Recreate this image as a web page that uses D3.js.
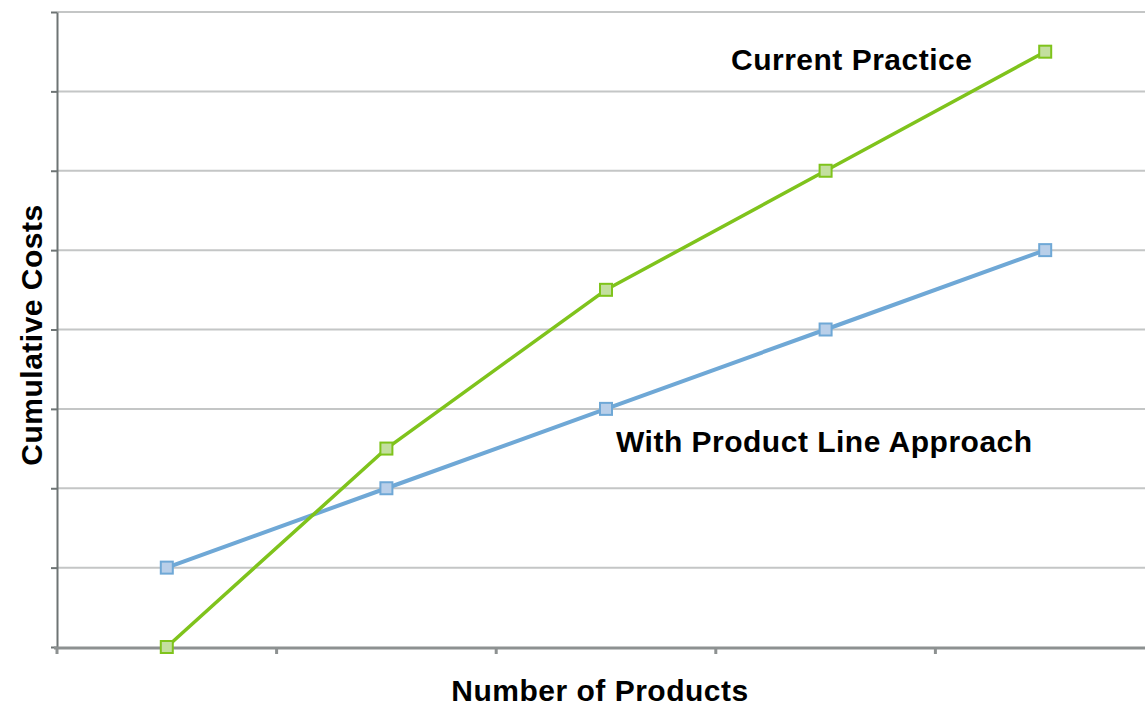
<!DOCTYPE html>
<html><head><meta charset="utf-8">
<script src="https://cdn.jsdelivr.net/npm/d3@7"></script>
<style>body{margin:0;background:#fff;overflow:hidden}svg{display:block}text{font-family:"Liberation Sans",Arial,sans-serif;font-weight:bold;fill:#000;letter-spacing:0.5px}</style>
</head><body><svg id="c" width="1145" height="707"></svg>
<script>
const categories = ["1","2","3","4","5"];
const currentPractice = [0, 2.5, 4.5, 6, 7.5];
const productLine = [1, 2, 3, 4, 5];
const yTicks = [0,1,2,3,4,5,6,7,8];

(function(){
const svg = d3.select("#c");
const mLeft = 57, mRight = 1155, mTop = 12, mBottom = 647;
const x = d3.scaleBand().domain(categories).range([mLeft, mRight]);
const y = d3.scaleLinear().domain([0, 8]).range([mBottom, mTop]);

// gridlines
svg.append("g").selectAll("line").data(yTicks.filter(d=>d>0)).join("line")
  .attr("x1", mLeft).attr("x2", 1145).attr("y1", d=>y(d)).attr("y2", d=>y(d))
  .attr("stroke", "#c4c6c6").attr("stroke-width", 2);

// y axis
const ya = svg.append("g").attr("transform", `translate(${mLeft},0)`)
  .call(d3.axisLeft(y).tickValues(yTicks).tickSize(6).tickSizeOuter(0).tickFormat(""));
ya.select(".domain").attr("stroke", "#6e7474").attr("stroke-width", 2);
ya.selectAll(".tick line").attr("stroke", "#6e7474").attr("stroke-width", 2);

// x axis
const xTickPos = categories.map(c => x(c)).concat([x.range()[1]]);
const xa = svg.append("g");
xa.append("line").attr("x1", 54).attr("x2", 1145).attr("y1", mBottom+1).attr("y2", mBottom+1)
  .attr("stroke", "#8d9191").attr("stroke-width", 3);
xa.selectAll("line.t").data(xTickPos).join("line").attr("class","t")
  .attr("x1", d=>d).attr("x2", d=>d).attr("y1", mBottom).attr("y2", mBottom+7)
  .attr("stroke", "#8d9191").attr("stroke-width", 3);

function series(vals, stroke, fill, w) {
  const line = d3.line().x((d,i)=>x(categories[i]) + x.bandwidth()/2).y(d=>y(d));
  svg.append("path").datum(vals).attr("d", line).attr("fill","none")
    .attr("stroke", stroke).attr("stroke-width", w).attr("stroke-linejoin","round");
  svg.append("g").selectAll("rect").data(vals).join("rect")
    .attr("x", (d,i)=>x(categories[i]) + x.bandwidth()/2 - 6)
    .attr("y", d=>y(d)-6).attr("width", 12).attr("height", 12)
    .attr("fill", fill).attr("stroke", stroke).attr("stroke-width", 2);
}
series(productLine, "#6fa8d6", "#b9cfe9", 4);
series(currentPractice, "#7fc31c", "#c3df9f", 3.5);

svg.append("text").attr("x", 731).attr("y", 70).attr("font-size", 30).text("Current Practice");
svg.append("text").attr("x", 616).attr("y", 452).attr("font-size", 30).text("With Product Line Approach");
svg.append("text").attr("x", 600).attr("y", 701).attr("text-anchor","middle").attr("font-size", 30).text("Number of Products");
svg.append("text").attr("transform","translate(42,335) rotate(-90)").attr("text-anchor","middle").attr("font-size", 30).attr("letter-spacing", "1px").text("Cumulative Costs");
})();
</script></body></html>
